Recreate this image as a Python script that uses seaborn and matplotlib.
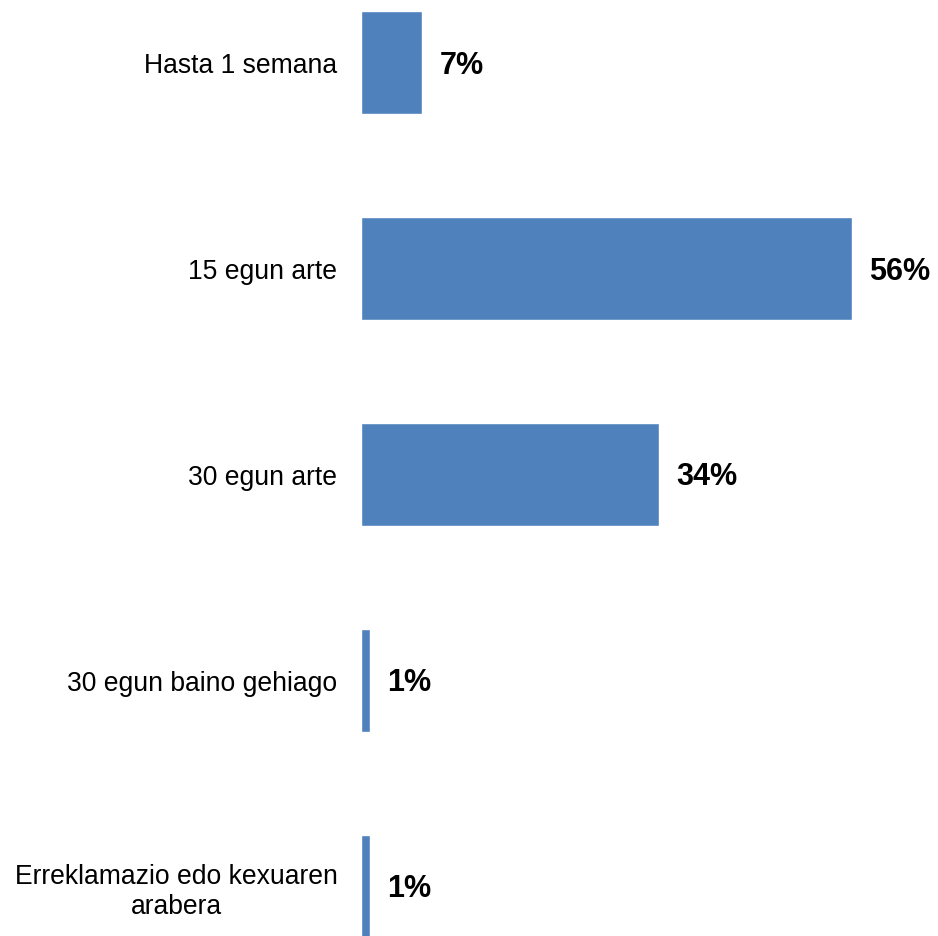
import matplotlib
matplotlib.use("Agg")
import matplotlib.pyplot as plt
import seaborn as sns
import pandas as pd

categories = [
    "Hasta 1 semana",
    "15 egun arte",
    "30 egun arte",
    "30 egun baino gehiago",
    "Erreklamazio edo kexuaren\narabera",
]
values = [7, 56, 34, 1, 1]
value_labels = ["7%", "56%", "34%", "1%", "1%"]

sns.set_theme(style="white")
plt.rcParams["font.family"] = ["Liberation Sans", "DejaVu Sans"]

df = pd.DataFrame({"category": categories, "value": values})

fig = plt.figure(figsize=(9.38, 9.36), dpi=100)
ax = fig.add_axes([361 / 938, 0.0, 577 / 938, 1.0])

sns.barplot(data=df, y="category", x="value", orient="h",
            color="#4F81BD", saturation=1, width=0.5, ax=ax)

ax.set_xlim(0, 577 / (491 / 56))
ax.set_ylim(4.24, -0.305)

# percentage labels just right of each bar end
for i, (v, txt) in enumerate(zip(values, value_labels)):
    ax.annotate(txt, xy=(v, i), xytext=(12.5, -2.0), textcoords="offset points",
                ha="left", va="center", fontsize=22, fontweight="bold",
                color="black")

for s in ax.spines.values():
    s.set_visible(False)
ax.set_xticks([])
ax.set_xlabel("")
ax.set_ylabel("")
ax.tick_params(axis="y", length=0, pad=17)
for lbl in ax.get_yticklabels():
    lbl.set_fontsize(19.1)
    lbl.set_color("black")
    lbl.set_horizontalalignment("right")
    lbl.set_multialignment("center")

fig.savefig("out.png", dpi=100)
